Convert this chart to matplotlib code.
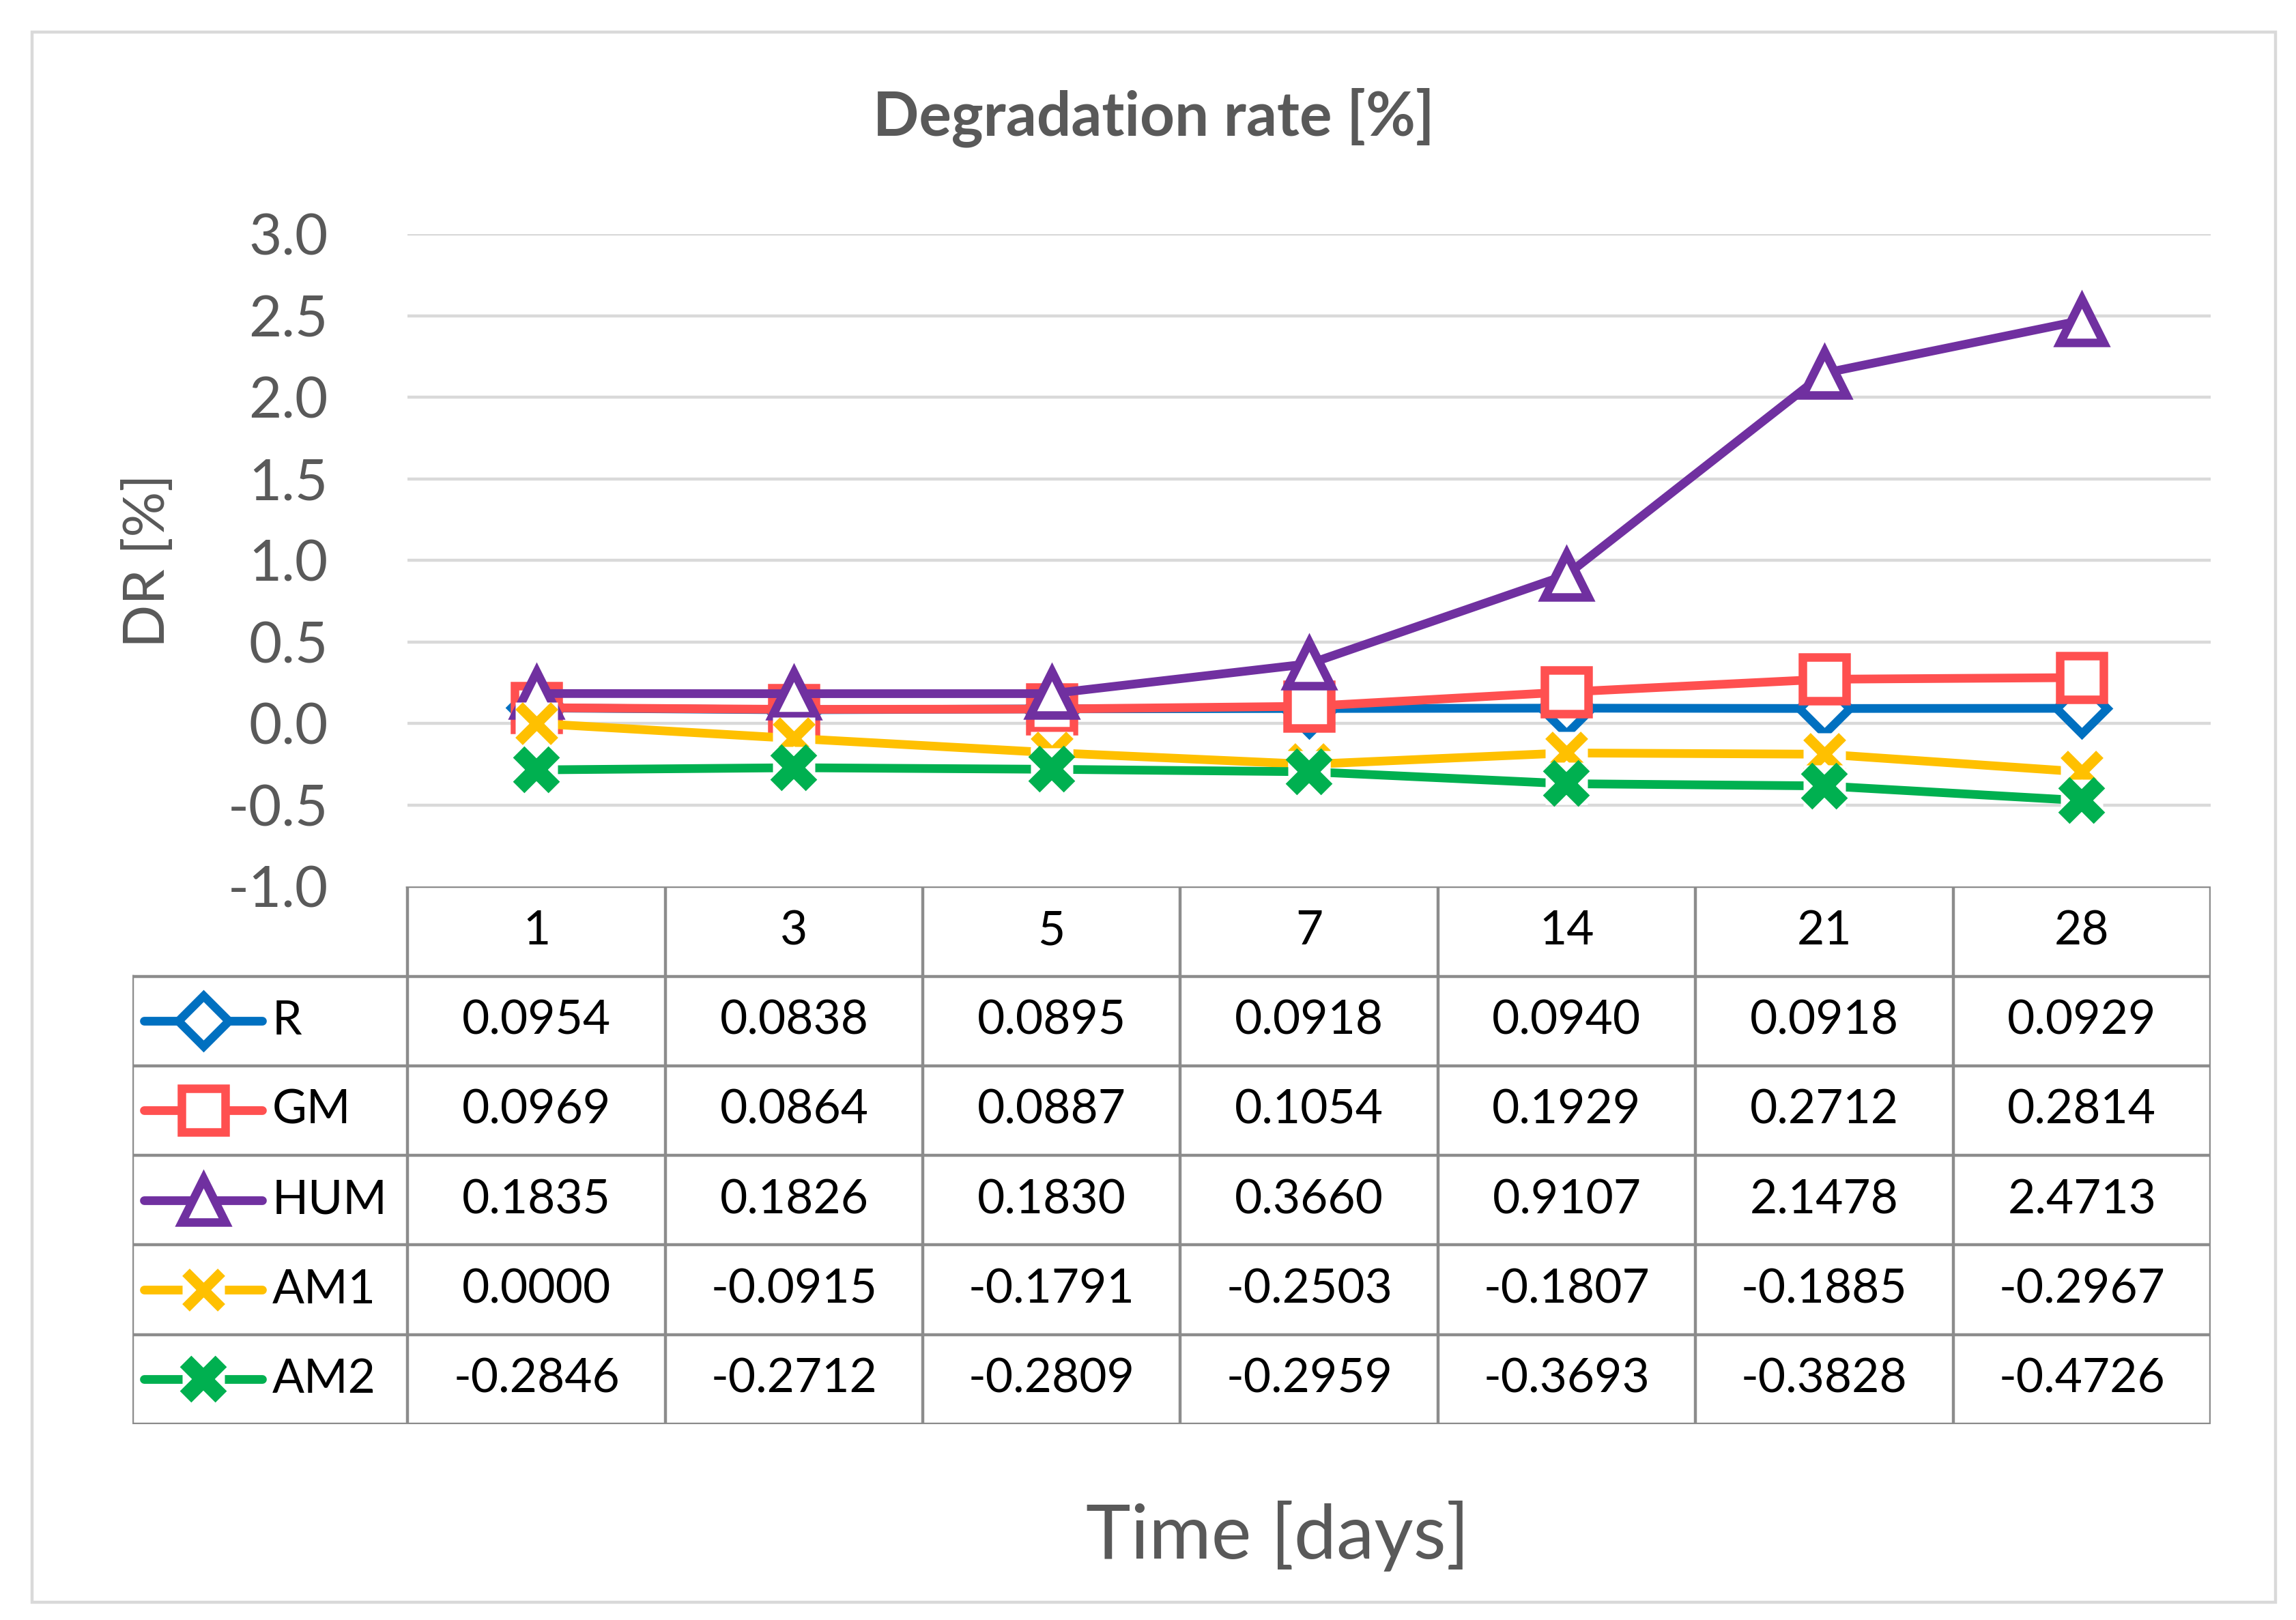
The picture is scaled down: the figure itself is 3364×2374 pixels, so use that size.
import numpy as np
import matplotlib
matplotlib.use("Agg")
import matplotlib.pyplot as plt
from matplotlib.patches import Rectangle

plt.rcParams['font.family'] = ['Lato', 'DejaVu Sans']
plt.rcParams['axes.unicode_minus'] = False

# data
days = ['1', '3', '5', '7', '14', '21', '28']
names = ['R', 'GM', 'HUM', 'AM1', 'AM2']
r_vals = [0.0954, 0.0838, 0.0895, 0.0918, 0.0940, 0.0918, 0.0929]
gm_vals = [0.0969, 0.0864, 0.0887, 0.1054, 0.1929, 0.2712, 0.2814]
hum_vals = [0.1835, 0.1826, 0.1830, 0.3660, 0.9107, 2.1478, 2.4713]
am1_vals = [0.0000, -0.0915, -0.1791, -0.2503, -0.1807, -0.1885, -0.2967]
am2_vals = [-0.2846, -0.2712, -0.2809, -0.2959, -0.3693, -0.3828, -0.4726]
yticks = [-1.0, -0.5, 0.0, 0.5, 1.0, 1.5, 2.0, 2.5, 3.0]

series = [r_vals, gm_vals, hum_vals, am1_vals, am2_vals]
colors = ['#0070C0', '#FF5050', '#7030A0', '#FFC000', '#00B050']
styles = [
    dict(marker='D', ms=19, mew=4.5, mfc='white'),
    dict(marker='s', ms=23, mew=4.5, mfc='white'),
    dict(marker='^', ms=23, mew=4.5, mfc='white'),
    dict(marker='x', ms=19, mew=5.5),
    dict(marker='x', ms=19, mew=8.5),
]
gap = [False, False, False, True, True]

W, H = 1560.0, 1100.0  # layout units (reference scaled)
def fx(x):
    return x / W
def fy(y):
    return 1 - y / H

fig = plt.figure(figsize=(16.82, 11.87), dpi=200)
fig.patches.append(Rectangle((fx(22), fy(1088)), fx(1546) - fx(22), fy(22) - fy(1088),
                             transform=fig.transFigure, fill=False, ec='#D9D9D9', lw=1.6))

ax = fig.add_axes([fx(277), fy(602), fx(1502) - fx(277), fy(159) - fy(602)])
x = np.arange(len(days)) + 0.5
LW = 4.6
for vals, col, st, g in zip(series, colors, styles, gap):
    ax.plot(x, vals, color=col, lw=LW, solid_capstyle='round', solid_joinstyle='round', zorder=3)
    if g:
        ax.plot(x, vals, ls='none', marker='s', ms=22, mfc='white', mec='none', zorder=3)
    ax.plot(x, vals, ls='none', color=col, mec=col, zorder=3, **st)

ax.set_xlim(0, len(days))
ax.set_ylim(-1.0, 3.0)
ax.set_yticks(yticks)
ax.set_yticklabels([f'{t:.1f}' for t in yticks])
ax.set_xticks([])
ax.tick_params(axis='y', length=0, pad=42, labelsize=30, labelcolor='#595959')
for t in yticks[1:]:
    ax.axhline(t, color='#D9D9D9', lw=1.6, zorder=1)
for s in ax.spines.values():
    s.set_visible(False)
ax.set_ylabel('DR [%]', fontsize=30, color='#595959', labelpad=28)

fig.text(fx(784), fy(80), 'Degradation rate [%]', ha='center', va='center',
         fontsize=32, fontweight='bold', color='#595959')
fig.text(fx(868), fy(1043), 'Time [days]', ha='center', va='center',
         fontsize=40, color='#595959')

# data table
lw_col = (277 - 90) / 175.0
tab = fig.add_axes([fx(90), fy(967), fx(1502) - fx(90), fy(602) - fy(967)])
tab.set_xlim(-lw_col, len(days))
tab.set_ylim(len(names) + 1, 0)
tab.axis('off')
grid_c = '#8C8C8C'
tab.plot([0, len(days)], [0, 0], color=grid_c, lw=1.6)
for r in range(1, len(names) + 2):
    tab.plot([-lw_col, len(days)], [r, r], color=grid_c, lw=1.6)
for c in range(len(days) + 1):
    tab.plot([c, c], [0, len(names) + 1], color=grid_c, lw=1.6)
tab.plot([-lw_col, -lw_col], [1, len(names) + 1], color=grid_c, lw=1.6)

for c, d in enumerate(days):
    tab.text(c + 0.5, 0.5, d, ha='center', va='center', fontsize=25)
for r, (nm, vals, col, st, g) in enumerate(zip(names, series, colors, styles, gap), start=1):
    ly = r + 0.5
    xs = [-1.023, -0.566]
    tab.plot(xs, [ly, ly], color=col, lw=LW, solid_capstyle='round')
    if g:
        tab.plot([-0.794], [ly], ls='none', marker='s', ms=22, mfc='white', mec='none')
    tab.plot([-0.794], [ly], ls='none', color=col, mec=col, **st)
    tab.text(-0.526, ly, nm, ha='left', va='center', fontsize=25)
    for c, v in enumerate(vals):
        tab.text(c + 0.5, ly, f'{v:.4f}', ha='center', va='center', fontsize=25)

fig.savefig('out.png', dpi=200, facecolor='white')
